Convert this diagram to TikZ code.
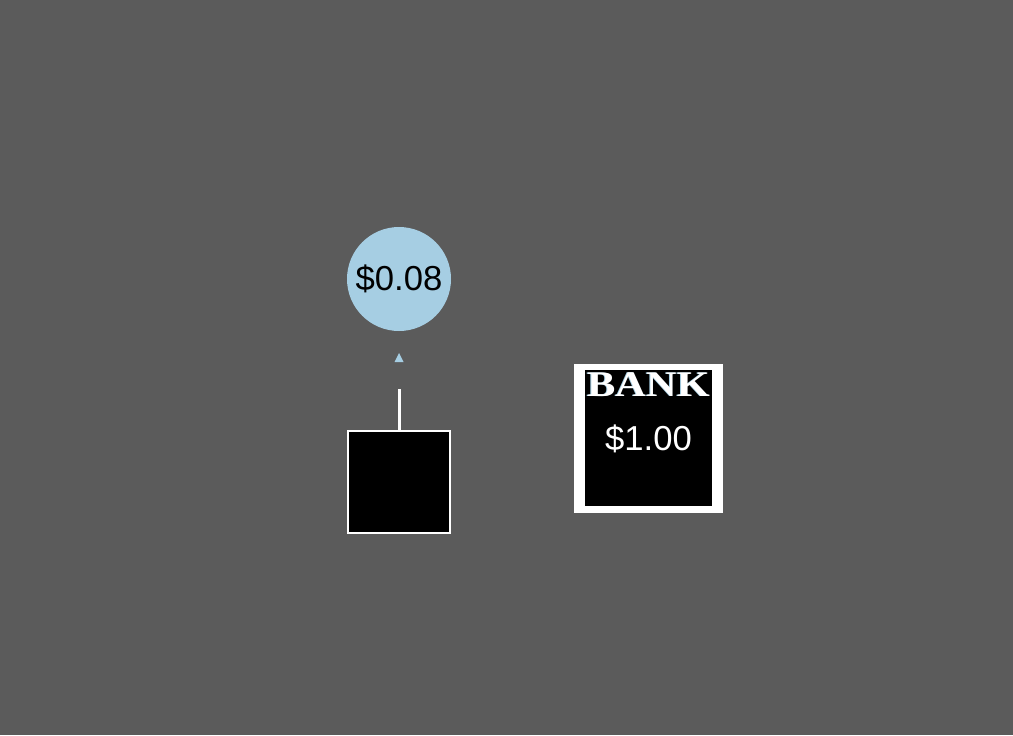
\documentclass[tikz,border=0pt]{standalone}
\usepackage{fontspec}
\setmainfont{Liberation Sans}
\newfontfamily\bankfont{Liberation Serif}
\usepackage{tikz}
\usetikzlibrary{shapes,arrows,positioning,calc}

\definecolor{bg}{HTML}{5B5B5B}
\definecolor{coin}{HTML}{A6CEE3}

\tikzset{
  price/.style={circle, fill=coin, inner sep=0pt, minimum size=78pt,
    font=\fontsize{26}{30}\selectfont, text=black},
  player/.style={rectangle, fill=black, draw=white, line width=1.5pt, minimum size=76.5pt},
  bankbox/.style={rectangle, fill=white, inner sep=0pt, minimum size=111.75pt},
  banktitle/.style={inner sep=0pt, font=\bankfont\bfseries\fontsize{27}{30}\selectfont, xscale=1.18},
  stem/.style={white, line width=2.25pt}
}

\begin{document}
\begin{tikzpicture}[x=0.75pt, y=-0.75pt]
    % Background
    \fill[bg] (0,0) rectangle (1013,735);
    
    % Coin above the player
    \node[price] (coin) at (399,279) {\$0.08};
    
    % Player box and its stem
    \node[player] (player) at (399,481.5) {};
    \coordinate (stemtop) at (399,389);
    \draw[stem] (player.north) -- (stemtop);
    
    % Arrow tip
    \coordinate (tip) at (399,353);
    \fill[coin] (tip) -- ++(4.5,9) -- ++(-9,0) -- cycle;
    
    % Bank
    \node[bankbox] (bank) at (648.5,438.5) {};
    \fill[black] ($(bank.north west)+(11,6)$) rectangle ($(bank.south east)+(-11,-7)$);
    \node[banktitle, text=coin, anchor=base] (banktitleshadow) at (647.5,396) {BANK};
    \node[banktitle, text=white, anchor=base] (banktitle) at (648.5,396) {BANK};
    \node[text=white, font=\fontsize{26}{30}\selectfont] (balance) at (648.5,439) {\$1.00};
\end{tikzpicture}
\end{document}
